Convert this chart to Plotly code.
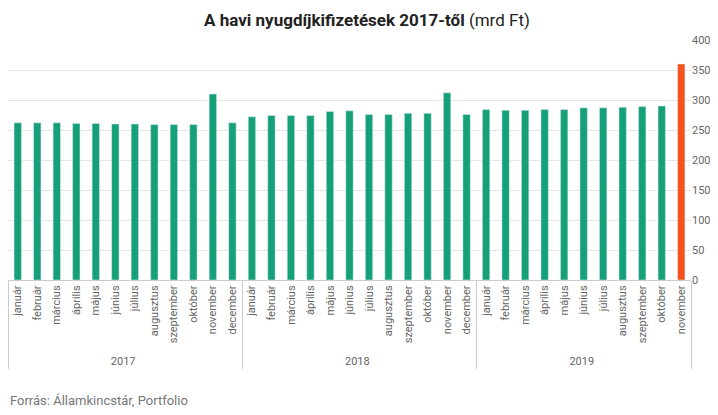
import plotly.graph_objects as go

months = ["január","február","március","április","május","június","július","augusztus","szeptember","október","november","december"]
years = ["2017"]*12 + ["2018"]*12 + ["2019"]*11
month_labels = months*2 + months[:11]
values = [262,262,262,261,261,260,260,259,259,259,310,262,
          272,274,274,274,281,282,276,276,278,278,312,276,
          284,283,283,284,284,287,287,288,289,290,360]
colors = ["#16a07a"]*34 + ["#f4511e"]

fig = go.Figure(go.Bar(x=[years, month_labels], y=values, marker_color=colors, width=0.38))
fig.update_layout(
    width=718, height=415, paper_bgcolor="white", plot_bgcolor="white",
    font=dict(family="Roboto", color="#666", size=11),
    title=dict(text="<b>A havi nyugdíjkifizetések 2017-től</b> (mrd Ft)", x=0.5, xanchor="center",
               y=0.985, yanchor="top", font=dict(size=17, color="#222")),
    margin=dict(l=0, r=35, t=32, b=143, autoexpand=False), showlegend=False,
    annotations=[dict(text="Forrás: Államkincstár, Portfolio", x=0, y=-0.5, xref="paper", yref="paper",
                      xanchor="left", yanchor="middle", showarrow=False, font=dict(size=13, color="#777"))]
)
fig.update_yaxes(side="right", range=[0, 400], dtick=50, gridcolor="#e6e6e6", zeroline=False,
                 tickfont=dict(size=11, color="#666"))
fig.update_xaxes(tickangle=-90, showdividers=True, dividercolor="#ccc", tickfont=dict(size=11, color="#666"),
                 showline=True, linecolor="#ccc", automargin=False)
fig.write_html("out.html")
